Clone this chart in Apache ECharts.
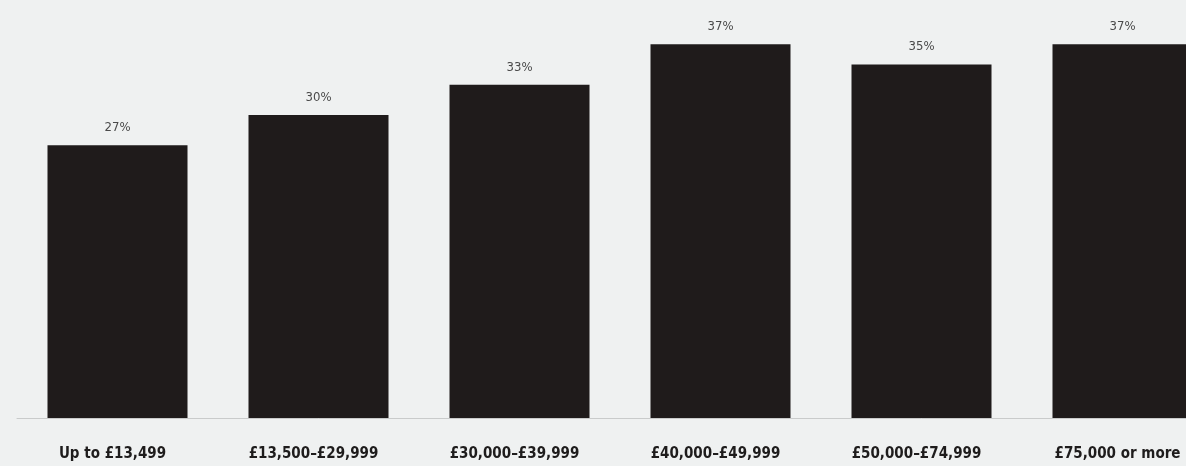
<!DOCTYPE html>
<html>
<head>
<meta charset="utf-8">
<script src="https://cdn.jsdelivr.net/npm/echarts@6/dist/echarts.min.js"></script>
<style>
html,body{margin:0;padding:0;background:#eff1f1;overflow:hidden;}
#c{width:1240px;height:466px;}
</style>
</head>
<body>
<div id="c"></div>
<script>
const categories = ["Up to £13,499", "£13,500–£29,999", "£30,000–£39,999", "£40,000–£49,999", "£50,000–£74,999", "£75,000 or more"];
const values = [27, 30, 33, 37, 35, 37];

const chart = echarts.init(document.getElementById('c'));
chart.setOption({
  backgroundColor: '#eff1f1',
  animation: false,
  grid: { left: 17, top: 14, width: 1206, height: 404, containLabel: false },
  xAxis: {
    type: 'category',
    data: categories,
    axisLine: { lineStyle: { color: '#c9cbcb', width: 1 } },
    axisTick: { show: false },
    axisLabel: {
      margin: 29,
      padding: [0, 10, 0, 0],
      color: '#1e1c1c',
      fontFamily: '"Liberation Sans Narrow", "DejaVu Sans Condensed", "Roboto Condensed", sans-serif',
      fontWeight: 'bold',
      fontSize: 15,
      interval: 0
    }
  },
  yAxis: {
    type: 'value',
    min: 0, max: 40,
    show: false,
    splitLine: { show: false }
  },
  series: [{
    type: 'bar',
    data: values,
    barWidth: 140,
    itemStyle: { color: '#1f1b1b' },
    label: {
      show: true,
      position: 'top',
      distance: 11,
      formatter: '{c}%',
      color: '#4a4a4a',
      fontSize: 13,
      fontFamily: '"Liberation Sans Narrow", "DejaVu Sans Condensed", sans-serif'
    }
  }]
});
</script>
</body>
</html>
